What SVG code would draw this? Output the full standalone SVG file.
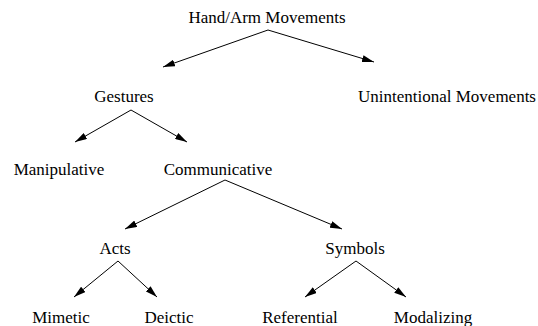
<svg xmlns="http://www.w3.org/2000/svg" width="538" height="326" viewBox="0 0 538 326">
<defs>
<style>
text{font-family:"Liberation Serif","Times New Roman",serif;font-size:17px;fill:#000;text-anchor:middle}
.c line{stroke:#000;stroke-width:1;marker-end:url(#ah)}
</style>
<marker id="ah" markerUnits="userSpaceOnUse" markerWidth="12" markerHeight="7" refX="12" refY="3.5" orient="auto">
<path d="M0,0 L12,3.5 L0,7 z" fill="#000"/>
</marker>
</defs>
<rect width="538" height="326" fill="#fff"/>
<g id="connectors" class="c">
<line x1="268" y1="30" x2="163" y2="67"/>
<line x1="268" y1="30" x2="374" y2="62"/>
<line x1="131" y1="110" x2="75" y2="142"/>
<line x1="131" y1="110" x2="187" y2="142"/>
<line x1="225" y1="180" x2="125" y2="229"/>
<line x1="225" y1="180" x2="342" y2="229"/>
<line x1="118" y1="261" x2="74" y2="297"/>
<line x1="118" y1="261" x2="157" y2="297"/>
<line x1="356" y1="261" x2="305" y2="297"/>
<line x1="356" y1="261" x2="406" y2="297"/>
</g>
<g id="hand-arm"><text x="267" y="23">Hand/Arm Movements</text></g>
<g id="gestures"><text x="124" y="102">Gestures</text></g>
<g id="unintentional"><text x="447" y="102">Unintentional Movements</text></g>
<g id="manipulative"><text x="59" y="175">Manipulative</text></g>
<g id="communicative"><text x="218" y="175">Communicative</text></g>
<g id="acts"><text x="115" y="254">Acts</text></g>
<g id="symbols"><text x="355" y="254">Symbols</text></g>
<g id="mimetic"><text x="61" y="323">Mimetic</text></g>
<g id="deictic"><text x="169" y="323">Deictic</text></g>
<g id="referential"><text x="300" y="323">Referential</text></g>
<g id="modalizing"><text x="433" y="323">Modalizing</text></g>
</svg>
